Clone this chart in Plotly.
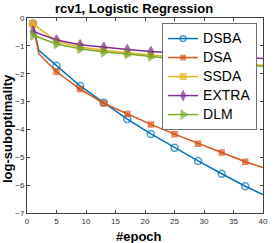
import plotly.graph_objects as go

epochs = [1, 2, 5, 9, 13, 17, 21, 25, 29, 33, 37, 40]
epochs_b = [1, 5, 9, 13, 17, 21, 25, 29, 33, 37, 40]

dsba = [-0.20, -1.16, -1.71, -2.44, -3.04, -3.63, -4.16, -4.66, -5.13, -5.59, -6.04, -6.34]
dsa = [-0.22, -1.28, -1.93, -2.55, -3.06, -3.45, -3.82, -4.17, -4.51, -4.83, -5.16, -5.37]
ssda = [-0.20, -0.84, -1.04, -1.16, -1.25, -1.32, -1.41, -1.50, -1.58, -1.65, -1.70]
extra = [-0.48, -0.79, -0.96, -1.05, -1.13, -1.20, -1.26, -1.32, -1.37, -1.42, -1.45]
dlm = [-0.62, -0.93, -1.10, -1.22, -1.29, -1.38, -1.48, -1.56, -1.63, -1.69, -1.73]

x_ticks = [0, 5, 10, 15, 20, 25, 30, 35, 40]
y_ticks = [0, -1, -2, -3, -4, -5, -6, -7]

marked_epochs = {1, 5, 9, 13, 17, 21, 25, 29, 33, 37}

FONT = "Liberation Sans, Arial, Helvetica"

def sizes(xs, s):
    return [s if x in marked_epochs else 0 for x in xs]

series = [
    ("DSBA", epochs, dsba, "#0072BD", "circle-open", 7),
    ("DSA", epochs, dsa, "#D95319", "square", 5),
    ("SSDA", epochs_b, ssda, "#EDB120", "square", 6),
    ("EXTRA", epochs_b, extra, "#7E2F8E", "diamond-tall", 7),
    ("DLM", epochs_b, dlm, "#77AC30", "triangle-right", 8),
]

fig = go.Figure()
for name, xs, ys, color, sym, s in series:
    fig.add_trace(go.Scatter(
        x=xs, y=ys, name='<span style="font-size:14px">%s</span>' % name,
        mode="lines+markers",
        line=dict(color=color, width=1.5),
        marker=dict(symbol=sym, size=sizes(xs, s), color=color,
                    line=dict(color=color, width=1.5)),
    ))

axis_common = dict(
    showgrid=False, zeroline=False, showline=True, linecolor="#404040",
    linewidth=1, mirror="ticks", ticks="inside", ticklen=3, tickcolor="#404040",
    tickfont=dict(family=FONT, size=8, color="#303030"),
)

fig.update_layout(
    width=274, height=243,
    margin=dict(l=27, r=6, t=18, b=30),
    paper_bgcolor="white", plot_bgcolor="white",
    title=dict(text="<b>rcv1, Logistic Regression</b>", x=134 / 274, xanchor="center",
               xref="container", yref="container", y=1 - 8 / 243, yanchor="middle",
               font=dict(family=FONT, size=13, color="#000")),
    xaxis=dict(range=[0, 40], tickvals=x_ticks, **axis_common),
    yaxis=dict(range=[-7, 0], tickvals=y_ticks, **axis_common),
    legend=dict(x=0.975, y=0.974, xanchor="right", yanchor="top",
                bgcolor="white", bordercolor="#707070", borderwidth=1,
                font=dict(family=FONT, size=11, color="#000"),
                tracegroupgap=0, itemwidth=30),
    showlegend=True,
    annotations=[
        dict(text="<b>#epoch</b>", xref="paper", yref="paper",
             x=(141 - 27) / 241, y=0, yshift=-(236 - 213), xanchor="center",
             yanchor="middle", showarrow=False,
             font=dict(family=FONT, size=13, color="#000")),
        dict(text="<b>log-suboptimality</b>", xref="paper", yref="paper",
             x=0, xshift=-(27 - 7), y=1 - (129 - 18) / 195, textangle=-90,
             xanchor="center", yanchor="middle", showarrow=False,
             font=dict(family=FONT, size=13, color="#000")),
    ],
)

fig.write_html(
    "out.html",
    config={"displayModeBar": False},
    post_script="document.body.style.margin='0';document.body.style.overflow='hidden';",
)
